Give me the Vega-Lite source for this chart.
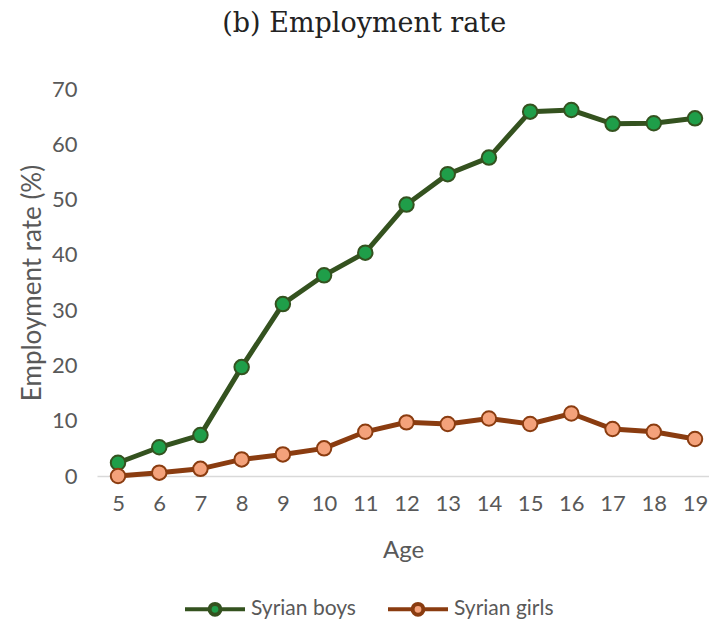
{
  "$schema": "https://vega.github.io/schema/vega-lite/v6.json",
  "autosize": {"type": "none"},
  "width": 612,
  "height": 387,
  "padding": {"left": 97, "top": 89, "right": 0, "bottom": 146},
  "background": "white",
  "title": {"text": "(b) Employment rate", "font": "DejaVu Serif", "fontSize": 27, "fontWeight": "normal", "color": "#222222", "offset": 40, "anchor": "middle", "frame": "bounds"},
  "data": {"values": [
    {"age": 5, "rate": 2.4, "series": "Syrian boys"},
    {"age": 6, "rate": 5.2, "series": "Syrian boys"},
    {"age": 7, "rate": 7.4, "series": "Syrian boys"},
    {"age": 8, "rate": 19.7, "series": "Syrian boys"},
    {"age": 9, "rate": 31.1, "series": "Syrian boys"},
    {"age": 10, "rate": 36.3, "series": "Syrian boys"},
    {"age": 11, "rate": 40.4, "series": "Syrian boys"},
    {"age": 12, "rate": 49.1, "series": "Syrian boys"},
    {"age": 13, "rate": 54.6, "series": "Syrian boys"},
    {"age": 14, "rate": 57.6, "series": "Syrian boys"},
    {"age": 15, "rate": 65.9, "series": "Syrian boys"},
    {"age": 16, "rate": 66.2, "series": "Syrian boys"},
    {"age": 17, "rate": 63.7, "series": "Syrian boys"},
    {"age": 18, "rate": 63.8, "series": "Syrian boys"},
    {"age": 19, "rate": 64.7, "series": "Syrian boys"},
    {"age": 5, "rate": 0.0, "series": "Syrian girls"},
    {"age": 6, "rate": 0.6, "series": "Syrian girls"},
    {"age": 7, "rate": 1.3, "series": "Syrian girls"},
    {"age": 8, "rate": 3.0, "series": "Syrian girls"},
    {"age": 9, "rate": 3.9, "series": "Syrian girls"},
    {"age": 10, "rate": 5.0, "series": "Syrian girls"},
    {"age": 11, "rate": 8.0, "series": "Syrian girls"},
    {"age": 12, "rate": 9.7, "series": "Syrian girls"},
    {"age": 13, "rate": 9.4, "series": "Syrian girls"},
    {"age": 14, "rate": 10.4, "series": "Syrian girls"},
    {"age": 15, "rate": 9.4, "series": "Syrian girls"},
    {"age": 16, "rate": 11.3, "series": "Syrian girls"},
    {"age": 17, "rate": 8.5, "series": "Syrian girls"},
    {"age": 18, "rate": 8.0, "series": "Syrian girls"},
    {"age": 19, "rate": 6.7, "series": "Syrian girls"}
  ]},
  "encoding": {
    "x": {"field": "age", "type": "quantitative",
      "scale": {"domain": [4.49, 19.34], "nice": false, "zero": false},
      "axis": {"values": [5,6,7,8,9,10,11,12,13,14,15,16,17,18,19], "title": "Age", "grid": false, "ticks": false,
        "domainColor": "#d9d9d9", "domainWidth": 1.5, "labelFont": "Lato", "labelFontSize": 22, "labelColor": "#595959",
        "labelPadding": 17, "titleFont": "Lato", "titleFontSize": 24, "titleFontWeight": "normal", "titleColor": "#595959", "titlePadding": 24, "labelFlush": false}},
    "y": {"field": "rate", "type": "quantitative",
      "scale": {"domain": [0, 70], "nice": false},
      "axis": {"values": [0,10,20,30,40,50,60,70], "title": "Employment rate (%)", "grid": false, "ticks": false, "domain": false,
        "labelFont": "Lato", "labelFontSize": 22, "labelColor": "#595959", "labelPadding": 20,
        "titleFont": "Lato", "titleFontSize": 26, "titleFontWeight": "normal", "titleColor": "#595959", "titlePadding": 6}}
  },
  "layer": [
    {
      "mark": {"type": "line", "strokeWidth": 5},
      "encoding": {
        "stroke": {"field": "series", "type": "nominal",
          "scale": {"domain": ["Syrian boys", "Syrian girls"], "range": ["#34521f", "#8a3c10"]},
          "legend": {"orient": "none", "legendX": 86, "legendY": 488, "direction": "horizontal", "title": null,
            "symbolType": "M-1,0H-0.18M0.18,0H1M-0.18,0A0.18,0.18 0 1,0 0.18,0A0.18,0.18 0 1,0 -0.18,0Z",
            "symbolSize": 3600, "symbolStrokeWidth": 4, "labelFont": "Lato", "labelFontSize": 21, "labelColor": "#595959",
            "labelOffset": 4, "columnPadding": 24}}
      }
    },
    {
      "mark": {"type": "point", "filled": true, "size": 210, "strokeWidth": 2, "opacity": 1},
      "encoding": {
        "stroke": {"field": "series", "type": "nominal"},
        "fill": {"field": "series", "type": "nominal",
          "scale": {"domain": ["Syrian boys", "Syrian girls"], "range": ["#1f9e49", "#f4a27b"]},
          "legend": {"orient": "none", "legendX": 86, "legendY": 488, "direction": "horizontal", "title": null,
            "symbolType": "M-1,0H-0.18M0.18,0H1M-0.18,0A0.18,0.18 0 1,0 0.18,0A0.18,0.18 0 1,0 -0.18,0Z",
            "symbolSize": 3600, "symbolStrokeWidth": 4, "labelFont": "Lato", "labelFontSize": 21, "labelColor": "#595959",
            "labelOffset": 4, "columnPadding": 24}}
      }
    }
  ],
  "config": {"view": {"stroke": null}}
}
